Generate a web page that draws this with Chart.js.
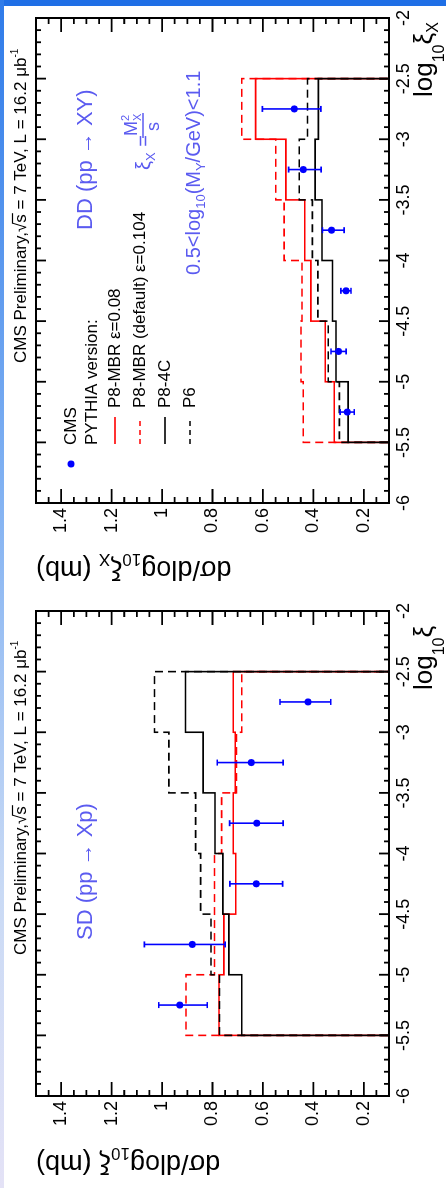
<!DOCTYPE html>
<html>
<head>
<meta charset="utf-8">
<script src="https://cdn.jsdelivr.net/npm/chart.js@4.4.1/dist/chart.umd.min.js"></script>
<style>
  html, body { margin:0; padding:0; background:#ffffff; }
  body { width:446px; height:1188px; overflow:hidden; position:relative; }
  #topbar { position:absolute; left:0; top:0; width:446px; height:6px; background:#1f6fe6; z-index:5; }
  #leftbar { position:absolute; left:0; top:0; width:4px; height:1188px; z-index:5;
    background:linear-gradient(to bottom, #2f7be9 0%, #7fb0f2 40%, #c9daf5 75%, #e4e2f6 100%); }
  #rot { position:absolute; left:0; top:0; width:1188px; height:446px;
    transform-origin:0 0; transform:translateY(1188px) rotate(-90deg); }
  .pane { position:absolute; top:0; width:594px; height:446px; }
</style>
</head>
<body>
<div id="topbar"></div>
<div id="leftbar"></div>
<div id="rot">
  <div class="pane" style="left:0"><canvas id="sd" width="594" height="446"></canvas></div>
  <div class="pane" style="left:594px"><canvas id="dd" width="594" height="446"></canvas></div>
</div>
<script>
// ---------------- data ----------------
const binEdges   = [-5.5, -5.0, -4.5, -4.0, -3.5, -3.0, -2.5];
const binCenters = [-5.25, -4.75, -4.25, -3.75, -3.25, -2.75];

// SD (pp -> Xp)
const sdCMS     = [0.930, 0.880, 0.626, 0.625, 0.646, 0.421];
const sdErrUp   = [0.083, 0.190, 0.105, 0.107, 0.135, 0.111];
const sdErrDn   = [0.109, 0.130, 0.104, 0.105, 0.126, 0.090];
const sdMBR008  = [0.774, 0.755, 0.708, 0.718, 0.710, 0.718];
const sdMBR0104 = [0.905, 0.792, 0.792, 0.764, 0.705, 0.684];
const sdP84C    = [0.684, 0.735, 0.759, 0.790, 0.837, 0.907];
const sdP6      = [0.772, 0.806, 0.847, 0.867, 0.973, 1.030];

// DD (pp -> XY)
const ddCMS     = [0.266, 0.300, 0.271, 0.328, 0.440, 0.476];
const ddErrUp   = [0.028, 0.030, 0.020, 0.036, 0.058, 0.126];
const ddErrDn   = [0.028, 0.030, 0.020, 0.050, 0.071, 0.106];
const ddMBR008  = [0.317, 0.353, 0.410, 0.434, 0.509, 0.629];
const ddMBR0104 = [0.440, 0.449, 0.445, 0.516, 0.549, 0.684];
const ddP84C    = [0.262, 0.310, 0.324, 0.366, 0.393, 0.380];
const ddP6      = [0.297, 0.341, 0.382, 0.404, 0.456, 0.423];

// axes
const xiMajorTicks  = [-6, -5.5, -5, -4.5, -4, -3.5, -3, -2.5, -2];
const xiTickLabels  = ['-6', '-5.5', '-5', '-4.5', '-4', '-3.5', '-3', '-2.5', '-2'];
const sigMajorTicks = [0.2, 0.4, 0.6, 0.8, 1.0, 1.2, 1.4];
const sigTickLabels = ['0.2', '0.4', '0.6', '0.8', '1', '1.2', '1.4'];
const xiRange  = [-6, -2];
const sigRange = [0.1, 1.5];

const legendLabels = ['CMS', 'PYTHIA version:', 'P8-MBR ε=0.08', 'P8-MBR (default) ε=0.104', 'P8-4C', 'P6'];

// ---------------- helpers ----------------
const FAM = "'Liberation Sans', Arial, Helvetica, sans-serif";
const BLUE_TXT = '#5b5bf0';
function fnt(size){ return size + 'px ' + FAM; }

function histPoints(vals){
  const pts = [{x: binEdges[0], y: 0}];
  vals.forEach((v, i) => { pts.push({x: binEdges[i], y: v}); pts.push({x: binEdges[i+1], y: v}); });
  pts.push({x: binEdges[binEdges.length - 1], y: 0});
  return pts;
}
function pointsOf(vals){ return vals.map((v, i) => ({x: binCenters[i], y: v})); }

// parts: [text, size, dy]
function rich(ctx, x, y, parts, align){
  let w = 0;
  parts.forEach(p => { ctx.font = fnt(p[1]); w += ctx.measureText(p[0]).width; });
  let cx = align === 'right' ? x - w : (align === 'center' ? x - w / 2 : x);
  ctx.textAlign = 'left'; ctx.textBaseline = 'alphabetic';
  const pos = [];
  parts.forEach(p => { ctx.font = fnt(p[1]); ctx.fillText(p[0], cx, y + (p[2] || 0)); const ww = ctx.measureText(p[0]).width; pos.push([cx, ww]); cx += ww; });
  return pos;
}

function range(a, b, step){ const out = []; const n = Math.round((b - a) / step); for (let i = 0; i <= n; i++) out.push(+(a + i * step).toFixed(4)); return out; }

const rootStyle = {
  id: 'rootStyle',
  beforeDatasetDraw(chart, args, opts){
    const ds = chart.data.datasets[args.index];
    if (!ds.isCMS) return;
    const ctx = chart.ctx, xs = chart.scales.x, ys = chart.scales.y;
    ctx.save();
    ctx.beginPath(); ctx.rect(chart.chartArea.left, chart.chartArea.top, chart.chartArea.width, chart.chartArea.height); ctx.clip();
    ctx.strokeStyle = '#0000ff'; ctx.lineWidth = 1.6;
    opts.vals.forEach((v, i) => {
      const px = xs.getPixelForValue(binCenters[i]);
      const pHi = ys.getPixelForValue(v + opts.up[i]);
      const pLo = ys.getPixelForValue(v - opts.dn[i]);
      ctx.beginPath(); ctx.moveTo(px, pHi); ctx.lineTo(px, pLo); ctx.stroke();
      ctx.beginPath(); ctx.moveTo(px - 3, pHi); ctx.lineTo(px + 3, pHi);
      ctx.moveTo(px - 3, pLo); ctx.lineTo(px + 3, pLo); ctx.stroke();
    });
    ctx.restore();
  },
  afterDatasetsDraw(chart, args, opts){
    const ctx = chart.ctx, xs = chart.scales.x, ys = chart.scales.y, a = chart.chartArea;
    ctx.save();
    ctx.strokeStyle = '#000'; ctx.fillStyle = '#000';
    // frame
    ctx.lineWidth = 2;
    ctx.strokeRect(a.left, a.top, a.right - a.left, a.bottom - a.top);
    // xi ticks (bottom & top)
    ctx.lineWidth = 1.8;
    range(xiRange[0], xiRange[1], 0.1).forEach(t => {
      const p = xs.getPixelForValue(t);
      const major = xiMajorTicks.some(m => Math.abs(m - t) < 1e-6);
      const L = major ? 10 : 5;
      ctx.beginPath();
      ctx.moveTo(p, a.bottom); ctx.lineTo(p, a.bottom - L);
      ctx.moveTo(p, a.top); ctx.lineTo(p, a.top + L);
      ctx.stroke();
    });
    // sigma ticks (left & right)
    range(sigRange[0], sigRange[1], 0.05).forEach(t => {
      const p = ys.getPixelForValue(t);
      const major = sigMajorTicks.some(m => Math.abs(m - t) < 1e-6);
      const L = major ? 14 : 6;
      ctx.beginPath();
      ctx.moveTo(a.left, p); ctx.lineTo(a.left + L, p);
      ctx.moveTo(a.right, p); ctx.lineTo(a.right - L, p);
      ctx.stroke();
    });
    // tick labels
    ctx.font = fnt(18);
    ctx.textAlign = 'center'; ctx.textBaseline = 'top';
    xiMajorTicks.forEach((t, i) => ctx.fillText(xiTickLabels[i], xs.getPixelForValue(t), a.bottom + 6));
    ctx.textAlign = 'right'; ctx.textBaseline = 'middle';
    sigMajorTicks.forEach((t, i) => ctx.fillText(sigTickLabels[i], a.left - 5, ys.getPixelForValue(t)));
    // x title
    const xt = [['log', 26, 0], ['10', 16, 12], ['ξ', 26, 0]];
    if (opts.panel === 'DD') xt.push(['X', 16, 6]);
    rich(ctx, a.left + 406, 432, xt, 'left');
    // y title (rotated)
    ctx.save();
    ctx.translate(33, a.top);
    ctx.rotate(-Math.PI / 2);
    const yt = [['dσ/dlog', 27, 0], ['10', 17, 7], ['ξ', 27, 0]];
    if (opts.panel === 'DD') yt.push(['X', 17, 7]);
    yt.push([' (mb)', 27, 0]);
    rich(ctx, 0, 0, yt, 'right');
    ctx.restore();
    // header
    ctx.fillStyle = '#000';
    const hp = rich(ctx, opts.headerX, 26, [['CMS Preliminary,', 17, 0], ['√', 17, 0], ['s', 17, 0], [' = 7 TeV, L = 16.2 μb', 17, 0], ['-1', 10, -8]], 'left');
    ctx.lineWidth = 1.2; ctx.beginPath(); ctx.moveTo(hp[2][0] - 1, 12.5); ctx.lineTo(hp[2][0] + hp[2][1] + 1, 12.5); ctx.stroke();
    // process label
    ctx.fillStyle = BLUE_TXT;
    if (opts.panel === 'SD') {
      rich(ctx, 248, 92, [['SD (pp → Xp)', 22, 0]], 'left');
    } else {
      rich(ctx, 364, 92, [['DD (pp → XY)', 22, 0]], 'left');
      // xi_X = M_X^2 / s
      rich(ctx, 424, 150, [['ξ', 20, 0], ['X', 13, 5], [' =', 20, 0]], 'left');
      rich(ctx, 458, 137, [['M', 18, 0], ['2', 11, -8]], 'left');
      ctx.font = fnt(11); ctx.fillText('X', 473, 141);
      ctx.strokeStyle = BLUE_TXT; ctx.lineWidth = 1.5;
      ctx.beginPath(); ctx.moveTo(456, 143); ctx.lineTo(481, 143); ctx.stroke();
      rich(ctx, 463, 159, [['s', 18, 0]], 'left');
      rich(ctx, 319, 200, [['0.5<log', 20, 0], ['10', 13, 5], ['(M', 20, 0], ['Y', 13, 5], ['/GeV)<1.1', 20, 0]], 'left');
      // legend
      ctx.fillStyle = '#0000ff';
      ctx.beginPath(); ctx.arc(130, 71, 3.5, 0, Math.PI * 2); ctx.fill();
      ctx.fillStyle = '#000';
      ctx.font = fnt(17); ctx.textAlign = 'left'; ctx.textBaseline = 'middle';
      ctx.fillText(legendLabels[0], 149, 71);
      ctx.fillText(legendLabels[1], 149, 92);
      const rows = [[115, '#ff0000', []], [140, '#ff0000', [5, 4]], [165, '#000000', []], [190, '#000000', [5, 4]]];
      rows.forEach((r, i) => {
        ctx.strokeStyle = r[1]; ctx.lineWidth = 1.6; ctx.setLineDash(r[2]);
        ctx.beginPath(); ctx.moveTo(150, r[0]); ctx.lineTo(177, r[0]); ctx.stroke();
        ctx.setLineDash([]);
        ctx.fillStyle = '#000'; ctx.fillText(legendLabels[i + 2], 186, r[0]);
      });
    }
    ctx.restore();
  }
};

function makeChart(id, panel, cms, up, dn, mbr008, mbr0104, p84c, p6, padLeft, padRight, headerX){
  const histDS = (vals, color, dash, order) => ({
    type: 'line', data: histPoints(vals), borderColor: color, borderWidth: 1.6, borderDash: dash,
    pointRadius: 0, tension: 0, fill: false, borderJoinStyle: 'miter', order: order
  });
  return new Chart(document.getElementById(id), {
    type: 'line',
    data: {
      datasets: [
        { type: 'line', isCMS: true, data: pointsOf(cms), showLine: false, pointRadius: 3.5, pointHoverRadius: 3.5,
          pointBackgroundColor: '#0000ff', pointBorderColor: '#0000ff', pointBorderWidth: 0, order: 0 },
        histDS(p84c, '#000000', [], 1),
        histDS(p6, '#000000', [8, 5], 2),
        histDS(mbr008, '#ff0000', [], 3),
        histDS(mbr0104, '#ff0000', [8, 5], 4)
      ]
    },
    options: {
      responsive: false, animation: false, devicePixelRatio: 1,
      layout: { padding: { left: padLeft, right: padRight, top: 36, bottom: 57 } },
      scales: {
        x: { type: 'linear', min: xiRange[0], max: xiRange[1], display: false },
        y: { type: 'linear', min: sigRange[0], max: sigRange[1], display: false }
      },
      plugins: {
        legend: { display: false }, tooltip: { enabled: false },
        rootStyle: { panel: panel, vals: cms, up: up, dn: dn, headerX: headerX }
      },
      events: []
    },
    plugins: [rootStyle]
  });
}

makeChart('sd', 'SD', sdCMS, sdErrUp, sdErrDn, sdMBR008, sdMBR0104, sdP84C, sdP6, 92, 17, 233);
makeChart('dd', 'DD', ddCMS, ddErrUp, ddErrDn, ddMBR008, ddMBR0104, ddP84C, ddP6, 91, 18, 231);
</script>
</body>
</html>
